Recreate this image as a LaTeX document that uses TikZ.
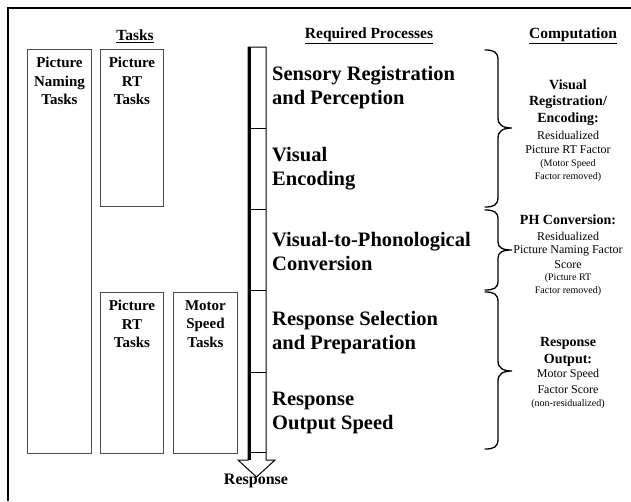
\documentclass[tikz,border=0pt]{standalone}
\usepackage{fontspec}
\setmainfont{Liberation Serif}
\begin{document}
\begin{tikzpicture}[x=1pt,y=-1pt,
  taskbox/.style={draw=black!70, line width=0.9pt},
  tasktext/.style={font=\fontsize{15}{18.5}\selectfont\bfseries, align=center, anchor=north, inner sep=0pt},
  proc/.style={font=\fontsize{20.5}{24}\selectfont\bfseries, align=left, anchor=west, inner sep=0pt},
  head/.style={font=\fontsize{15.5}{18}\selectfont\bfseries, inner sep=0pt},
  cb/.style={font=\fontsize{14}{17}\selectfont\bfseries, inner sep=0pt},
  cr/.style={font=\fontsize{12}{15}\selectfont, inner sep=0pt},
  cs/.style={font=\fontsize{10}{13}\selectfont, inner sep=0pt},
  bar/.style={draw=black, line width=1pt},
  brace/.style={draw=black, line width=1.3pt, line cap=round}
]
\useasboundingbox (0,0) rectangle (631,501);
% frame
\draw[line width=1.2pt] (8,501) -- (8,8) -- (631,8);

% headings
\node[head] (hTasks) at (135,36) {\underline{Tasks}};
\node[head] (hProc) at (369,36) {\underline{Required Processes}};
\node[head] (hComp) at (573,36) {\underline{Computation}};

% task boxes
\node[taskbox, anchor=north west, minimum width=64pt, minimum height=404pt, inner sep=0pt] (pn) at (27,49) {};
\node[taskbox, anchor=north west, minimum width=63pt, minimum height=157pt, inner sep=0pt] (rt1) at (100,49) {};
\node[taskbox, anchor=north west, minimum width=63pt, minimum height=161pt, inner sep=0pt] (rt2) at (100,292) {};
\node[taskbox, anchor=north west, minimum width=64pt, minimum height=161pt, inner sep=0pt] (ms) at (173,292) {};
\node[tasktext] (pnt) at ([yshift=-8pt]pn.north) {Picture\\Naming\\Tasks};
\node[tasktext] (rt1t) at ([yshift=-8pt]rt1.north) {Picture\\RT\\Tasks};
\node[tasktext] (rt2t) at ([yshift=-8pt]rt2.north) {Picture\\RT\\Tasks};
\node[tasktext] (mst) at ([yshift=-8pt]ms.north) {Motor\\Speed\\Tasks};

% process bar / arrow
\draw[bar, fill=white] (248,47) -- (266,47) -- (266,460) -- (275,460) -- (256.5,477) -- (238,460) -- (248,460) -- cycle;
\draw[line width=3pt] (249.5,47) -- (249.5,460);
\coordinate (b0) at (248,47);
\coordinate (b1) at (248,128);
\coordinate (b2) at (248,209);
\coordinate (b3) at (248,290);
\coordinate (b4) at (248,372);
\coordinate (b5) at (248,452);
\foreach \c in {b1,b2,b3,b4,b5} \draw[bar] (\c) -- ++(18,0);
\node[font=\fontsize{16}{18}\selectfont\bfseries, inner sep=0pt] (resp) at (256,481) {Response};

% process labels
\node[proc] (p1) at (272,88) {Sensory Registration\\and Perception};
\node[proc] (p2) at (272,169) {Visual\\Encoding};
\node[proc] (p3) at (272,251) {Visual-to-Phonological\\Conversion};
\node[proc] (p4) at (272,333) {Response Selection\\and Preparation};
\node[proc] (p5) at (272,413) {Response\\Output Speed};

% braces
\draw[brace] (485,50) .. controls (494,50) and (498,52) .. (498,60) -- (498,118)
  .. controls (498,125) and (503,128) .. (512,128)
  .. controls (503,128) and (498,131) .. (498,138) -- (498,197)
  .. controls (498,205) and (494,207) .. (485,207);
\draw[brace] (485,210) .. controls (494,210) and (498,212) .. (498,219) -- (498,242)
  .. controls (498,248) and (503,250) .. (512,250)
  .. controls (503,250) and (498,252) .. (498,258) -- (498,281)
  .. controls (498,288) and (494,290) .. (485,290);
\draw[brace] (485,292) .. controls (494,292) and (498,294) .. (498,302) -- (498,361)
  .. controls (498,368) and (503,371) .. (512,371)
  .. controls (503,371) and (498,374) .. (498,381) -- (498,439)
  .. controls (498,447) and (494,449) .. (485,449);

% computation texts
\node[cb] (c1a) at (568,85) {Visual};
\node[cb] (c1b) at (568,102) {Registration/};
\node[cb] (c1c) at (568,119) {Encoding:};
\node[cr] (c1d) at (568,135) {Residualized};
\node[cr] (c1e) at (568,150) {Picture RT Factor};
\node[cs] (c1f) at (568,164) {(Motor Speed};
\node[cs] (c1g) at (568,177) {Factor removed)};

\node[cb] (c2a) at (568,220) {PH Conversion:};
\node[cr] (c2b) at (568,236) {Residualized};
\node[cr] (c2c) at (568,251) {Picture Naming Factor};
\node[cr] (c2d) at (568,265) {Score};
\node[cs] (c2e) at (568,278) {(Picture RT};
\node[cs] (c2f) at (568,291) {Factor removed)};

\node[cb] (c3a) at (568,343) {Response};
\node[cb] (c3b) at (568,360) {Output:};
\node[cr] (c3c) at (568,375) {Motor Speed};
\node[cr] (c3d) at (568,390) {Factor Score};
\node[cs] (c3e) at (568,404) {(non-residualized)};
\end{tikzpicture}
\end{document}
